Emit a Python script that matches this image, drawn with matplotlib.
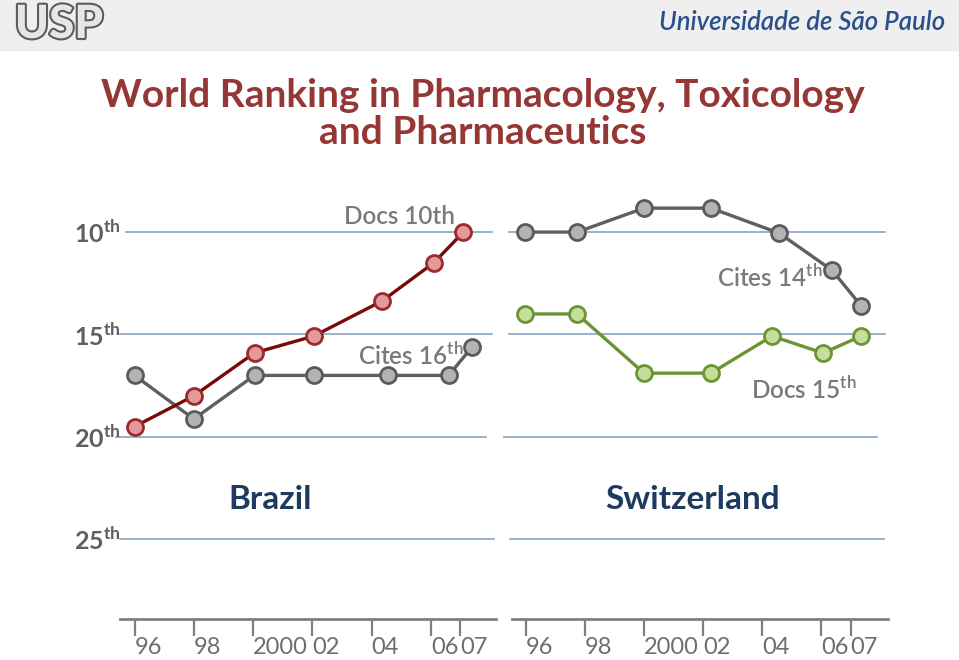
import matplotlib
matplotlib.use("Agg")
import matplotlib.pyplot as plt
import matplotlib.patheffects as pe
from matplotlib.transforms import blended_transform_factory

plt.rcParams['font.family'] = ['Lato', 'DejaVu Sans']
plt.rcParams['mathtext.fontset'] = 'custom'

# ---- data (rank positions) ----
years = [1996, 1998, 2000, 2002, 2004, 2006, 2007]
year_labels = ['96', '98', '2000', '02', '04', '06', '07']
ranks = [10, 15, 20, 25]

brazil_docs_x = [1996.0, 1998.0, 2000.05, 2002.05, 2004.35, 2006.1, 2007.1]
brazil_docs = [19.5, 18.0, 15.9, 15.08, 13.37, 11.5, 10.0]
brazil_cites_x = [1996.0, 1998.0, 2000.05, 2002.05, 2004.55, 2006.6, 2007.4]
brazil_cites = [17.0, 19.13, 17.0, 17.0, 17.0, 17.0, 15.6]

swiss_cites_x = [1995.95, 1997.73, 2000.0, 2002.27, 2004.58, 2006.37, 2007.36]
swiss_cites = [10.0, 10.0, 8.83, 8.83, 10.05, 11.86, 13.6]
swiss_docs_x = [1995.95, 1997.73, 2000.0, 2002.27, 2004.34, 2006.07, 2007.36]
swiss_docs = [14.0, 14.0, 16.89, 16.89, 15.08, 15.91, 15.08]

RED_LINE, RED_FACE, RED_EDGE = '#7a0a0a', '#e39a9a', '#9c2a2a'
GREY_LINE, GREY_FACE, GREY_EDGE = '#5f5f5f', '#b3b3b3', '#5a5a5a'
GREEN_LINE, GREEN_FACE, GREEN_EDGE = '#6a9532', '#c6de9c', '#6a9532'
GRID = '#7b9cc0'
TXT = '#7a7a7a'

W, H = 959, 660
fig = plt.figure(figsize=(W / 100, H / 100), dpi=100)
fig.patch.set_facecolor('white')

# header band
fig.patches.append(plt.Rectangle((0, 1 - 50 / H), 1, 50 / H, transform=fig.transFigure,
                                 color='#efefef', zorder=0))
fig.text(945 / W, 1 - 22 / H, 'Universidade de São Paulo', ha='right', va='center',
         fontsize=18.5, style='italic', color='#2b4f8a', fontweight='semibold')
fig.text(59 / W, 1 - 25 / H, 'USP', ha='center', va='center', fontsize=33,
         fontweight='black', color='#e6e6e6',
         path_effects=[pe.withStroke(linewidth=3, foreground='#5c5c5c')])

fig.text(483 / W, 1 - 114 / H, 'World Ranking in Pharmacology, Toxicology\nand Pharmaceutics',
         ha='center', va='center', fontsize=28, fontweight='bold', color='#953735',
         linespacing=1.1)

ylo, yhi = 28.9, 7.48
y0 = (H - 619) / H
hgt = (619 - 180.5) / H
axL = fig.add_axes([115 / W, y0, 381 / W, hgt])
axR = fig.add_axes([503 / W, y0, 385 / W, hgt])
axL.set_xlim(1995.34, 2008.2)
axR.set_xlim(1995.22, 2008.27)

grid_spans = {
    'L': [(0.03, 0.99), (0.013, 0.99), (0.0, 0.974), (0.013, 0.995)],
    'R': [(0.016, 0.992), (0.016, 0.992), (0.0, 0.971), (0.018, 0.99)],
}

for key, ax, bounds in [('L', axL, (1995.51, 2008.2)), ('R', axR, (1995.53, 2008.27))]:
    ax.set_ylim(ylo, yhi)
    ax.patch.set_alpha(0)
    for s in ['top', 'right', 'left']:
        ax.spines[s].set_visible(False)
    ax.spines['bottom'].set_color('#7f7f7f')
    ax.spines['bottom'].set_linewidth(2)
    ax.spines['bottom'].set_bounds(*bounds)
    ax.set_yticks([])
    ax.set_xticks(years)
    ax.set_xticklabels(year_labels)
    ax.tick_params(axis='x', direction='out', length=12, width=1.6, color='#7f7f7f',
                   labelsize=17, labelcolor='#6e6e6e', pad=1)
    for lab in ax.get_xticklabels():
        lab.set_ha('left')
    for r, (a, b) in zip(ranks, grid_spans[key]):
        ax.axhline(r, xmin=a, xmax=b, color=GRID, lw=1.1, zorder=1)

mk = dict(marker='o', markersize=11.5, markeredgewidth=2, lw=2.4, zorder=3)
axL.plot(brazil_cites_x, brazil_cites, color=GREY_LINE, markerfacecolor=GREY_FACE,
         markeredgecolor=GREY_EDGE, **mk)
axL.plot(brazil_docs_x, brazil_docs, color=RED_LINE, markerfacecolor=RED_FACE,
         markeredgecolor=RED_EDGE, **mk)
axR.plot(swiss_cites_x, swiss_cites, color=GREY_LINE, markerfacecolor=GREY_FACE,
         markeredgecolor=GREY_EDGE, **mk)
axR.plot(swiss_docs_x, swiss_docs, color=GREEN_LINE, markerfacecolor=GREEN_FACE,
         markeredgecolor=GREEN_EDGE, **mk)

# rank labels on the left
tr = blended_transform_factory(axL.transAxes, axL.transData)
for r in ranks:
    axL.text(0.016, r + 0.55, r'%d$^{\mathregular{th}}$' % r, transform=tr, ha='right',
             va='baseline', fontsize=18, fontweight='bold', color='#5f5f5f')

ann = dict(fontsize=17.5, color=TXT, fontweight='semibold', zorder=2)
axL.text(2006.81, 9.22, 'Docs 10th', ha='right', va='center', **ann)
axL.text(2007.1, 16.05, r'Cites 16$^{\mathregular{th}}$', ha='right', va='center', **ann)
axR.text(2006.05, 12.2, r'Cites 14$^{\mathregular{th}}$', ha='right', va='center', **ann)
axR.text(2007.2, 17.7, r'Docs 15$^{\mathregular{th}}$', ha='right', va='center', **ann)

axL.text(2000.56, 23.04, 'Brazil', ha='center', va='center', fontsize=24,
         fontweight='bold', color='#1f3a5f')
axR.text(2001.63, 23.04, 'Switzerland', ha='center', va='center', fontsize=24,
         fontweight='bold', color='#1f3a5f')

fig.savefig('out.png', dpi=100)
